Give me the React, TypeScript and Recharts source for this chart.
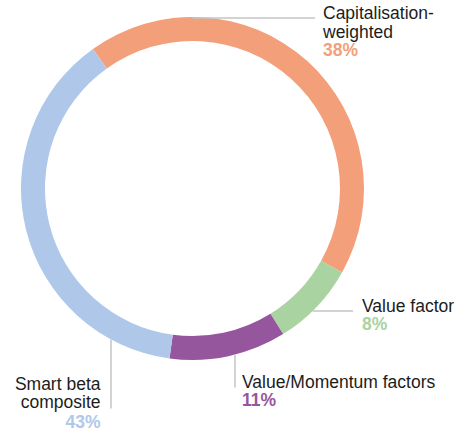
import { PieChart, Pie, Cell } from 'recharts';

// arc sizes as drawn in the picture (clockwise from the top-left)
const segments = ['Capitalisation-weighted', 'Value factor', 'Value/Momentum factors', 'Smart beta composite'];
const arcValues = [43, 8, 11, 38];
// percentages printed in the labels
const shareLabels = ['38%', '8%', '11%', '43%'];
const labelLines = [['Capitalisation-', 'weighted'], ['Value factor'], ['Value/Momentum factors'], ['Smart beta', 'composite']];
const colors = ['#F39F7A', '#A9D3A0', '#96569E', '#AFC8EA'];

const data = segments.map((name, i) => ({ name, value: arcValues[i] }));

const FONT = '"Liberation Sans", Arial, sans-serif';
const LINE = '#c4c4c4';
const INK = '#1c1c1c';

function renderLabel(props: any) {
  const { cx, cy, outerRadius: r, index } = props;
  const lines = labelLines[index];
  const pct = shareLabels[index];
  const col = colors[index];
  const txt = (x: number, y: number, s: string, fill: string, anchor: string, bold = false) => (
    <text x={x} y={y} fill={fill} textAnchor={anchor as any} fontFamily={FONT} fontSize={17.5} fontWeight={bold ? 700 : 400}>
      {s}
    </text>
  );

  if (index === 0) {
    const y = cy - r + 1;
    const tx = cx + 130.5;
    return (
      <g key="l0">
        <line x1={cx} y1={y} x2={cx + 122.5} y2={y} stroke={LINE} strokeWidth={1.5} />
        {txt(tx, cy - r + 2, lines[0], INK, 'start')}
        {txt(tx, cy - r + 21, lines[1], INK, 'start')}
        {txt(tx, cy - r + 39, pct, col, 'start', true)}
      </g>
    );
  }
  if (index === 1) {
    const dy = 122.5;
    const x1 = cx + Math.sqrt(r * r - dy * dy);
    return (
      <g key="l1">
        <line x1={x1} y1={cy + dy} x2={cx + 160.5} y2={cy + dy} stroke={LINE} strokeWidth={1.5} />
        {txt(cx + 169.5, cy + 123.5, lines[0], INK, 'start')}
        {txt(cx + 169.5, cy + 141.5, pct, col, 'start', true)}
      </g>
    );
  }
  if (index === 2) {
    const dx = 42.5;
    const y1 = cy + Math.sqrt(r * r - dx * dx);
    return (
      <g key="l2">
        <line x1={cx + dx} y1={y1} x2={cx + dx} y2={cy + 199} stroke={LINE} strokeWidth={1.5} />
        {txt(cx + 49.5, cy + 199, lines[0], INK, 'start')}
        {txt(cx + 49.5, cy + 217.5, pct, col, 'start', true)}
      </g>
    );
  }
  const dx = -81.5;
  const y1 = cy + Math.sqrt(r * r - dx * dx);
  return (
    <g key="l3">
      <line x1={cx + dx} y1={y1} x2={cx + dx} y2={cy + 220} stroke={LINE} strokeWidth={1.5} />
      {txt(cx - 92, cy + 201, lines[0], INK, 'end')}
      {txt(cx - 92, cy + 219.5, lines[1], INK, 'end')}
      {txt(cx - 92, cy + 239, pct, col, 'end', true)}
    </g>
  );
}

export default function App() {
  return (
    <div style={{ position: 'absolute', left: 0, top: 0, width: 460, height: 432, background: '#fff' }}>
      <PieChart width={460} height={432} margin={{ top: 0, right: 0, bottom: 0, left: 0 }}>
        <Pie
          data={data}
          dataKey="value"
          nameKey="name"
          cx={192.5}
          cy={188.5}
          outerRadius={171.5}
          innerRadius={147.5}
          startAngle={125.5}
          endAngle={-234.5}
          stroke="none"
          label={renderLabel}
          labelLine={false}
          isAnimationActive={false}
        >
          {data.map((d, i) => (
            <Cell key={d.name} fill={colors[i]} />
          ))}
        </Pie>
      </PieChart>
    </div>
  );
}
